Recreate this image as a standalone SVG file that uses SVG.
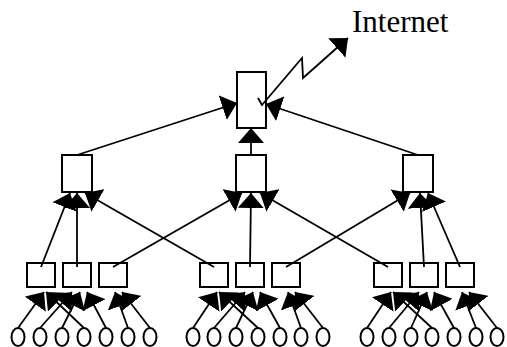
<svg xmlns="http://www.w3.org/2000/svg" width="507" height="347" viewBox="0 0 507 347">
<style>
.box{fill:#fff;stroke:#000;stroke-width:2}
.leaf{fill:#fff;stroke:#000;stroke-width:2}
.c{fill:none;stroke:#000;stroke-width:1.8;marker-end:url(#ah)}
.t{font-family:"Liberation Serif","Times New Roman",serif;font-size:31px;fill:#000}
</style>
<defs>
<marker id="ah" viewBox="0 0 15 26" refX="15" refY="13" markerWidth="15" markerHeight="26" markerUnits="userSpaceOnUse" orient="auto">
<path d="M0,0 L15,13 L0,26 z" fill="#000"/>
</marker>
</defs>
<g id="root"><rect class="box" x="237" y="72" width="29" height="56"/></g>
<g id="mid1"><rect class="box" x="62" y="155" width="30" height="37"/></g>
<g id="mid2"><rect class="box" x="236" y="155" width="30" height="37"/></g>
<g id="mid3"><rect class="box" x="403" y="155" width="30" height="37"/></g>
<g id="b1"><rect class="box" x="27" y="263" width="28" height="24"/></g>
<g id="b2"><rect class="box" x="63" y="263" width="28" height="24"/></g>
<g id="b3"><rect class="box" x="99" y="263" width="28" height="24"/></g>
<g id="b4"><rect class="box" x="200" y="263" width="28" height="24"/></g>
<g id="b5"><rect class="box" x="236" y="263" width="28" height="24"/></g>
<g id="b6"><rect class="box" x="272" y="263" width="28" height="24"/></g>
<g id="b7"><rect class="box" x="374" y="263" width="28" height="24"/></g>
<g id="b8"><rect class="box" x="410" y="263" width="28" height="24"/></g>
<g id="b9"><rect class="box" x="446" y="263" width="28" height="24"/></g>
<g id="leaves">
<g id="l1"><ellipse class="leaf" cx="18" cy="337" rx="6.5" ry="9"/></g>
<g id="l2"><ellipse class="leaf" cx="40" cy="337" rx="6.5" ry="9"/></g>
<g id="l3"><ellipse class="leaf" cx="62" cy="337" rx="6.5" ry="9"/></g>
<g id="l4"><ellipse class="leaf" cx="84" cy="337" rx="6.5" ry="9"/></g>
<g id="l5"><ellipse class="leaf" cx="106" cy="337" rx="6.5" ry="9"/></g>
<g id="l6"><ellipse class="leaf" cx="128" cy="337" rx="6.5" ry="9"/></g>
<g id="l7"><ellipse class="leaf" cx="150" cy="337" rx="6.5" ry="9"/></g>
<g id="l8"><ellipse class="leaf" cx="193" cy="337" rx="6.5" ry="9"/></g>
<g id="l9"><ellipse class="leaf" cx="214" cy="337" rx="6.5" ry="9"/></g>
<g id="l10"><ellipse class="leaf" cx="236" cy="337" rx="6.5" ry="9"/></g>
<g id="l11"><ellipse class="leaf" cx="258" cy="337" rx="6.5" ry="9"/></g>
<g id="l12"><ellipse class="leaf" cx="280" cy="337" rx="6.5" ry="9"/></g>
<g id="l13"><ellipse class="leaf" cx="301" cy="337" rx="6.5" ry="9"/></g>
<g id="l14"><ellipse class="leaf" cx="323" cy="337" rx="6.5" ry="9"/></g>
<g id="l15"><ellipse class="leaf" cx="367" cy="337" rx="6.5" ry="9"/></g>
<g id="l16"><ellipse class="leaf" cx="389" cy="337" rx="6.5" ry="9"/></g>
<g id="l17"><ellipse class="leaf" cx="411" cy="337" rx="6.5" ry="9"/></g>
<g id="l18"><ellipse class="leaf" cx="432" cy="337" rx="6.5" ry="9"/></g>
<g id="l19"><ellipse class="leaf" cx="454" cy="337" rx="6.5" ry="9"/></g>
<g id="l20"><ellipse class="leaf" cx="476" cy="337" rx="6.5" ry="9"/></g>
<g id="l21"><ellipse class="leaf" cx="497" cy="337" rx="6.5" ry="9"/></g>
</g>
<g id="internet"><text class="t" x="352" y="32">Internet</text></g>
<g id="connectors">
<line class="c" x1="77" y1="155" x2="237" y2="103"/>
<line class="c" x1="251" y1="155" x2="251" y2="128"/>
<line class="c" x1="418" y1="155" x2="266" y2="104"/>
<polyline class="c" points="258,98 262,105 302,58 303,78 348,38"/>
<line class="c" x1="41" y1="267" x2="70" y2="193"/>
<line class="c" x1="77" y1="267" x2="77" y2="193"/>
<line class="c" x1="214" y1="267" x2="85" y2="193"/>
<line class="c" x1="113" y1="267" x2="242" y2="193"/>
<line class="c" x1="250" y1="267" x2="251" y2="193"/>
<line class="c" x1="388" y1="267" x2="260" y2="193"/>
<line class="c" x1="286" y1="267" x2="410" y2="193"/>
<line class="c" x1="424" y1="267" x2="420" y2="193"/>
<line class="c" x1="460" y1="267" x2="428" y2="193"/>
<line class="c" x1="18" y1="328" x2="44" y2="292"/>
<line class="c" x1="40" y1="328" x2="72" y2="292"/>
<line class="c" x1="62" y1="328" x2="80" y2="292"/>
<line class="c" x1="84" y1="328" x2="46" y2="292"/>
<line class="c" x1="106" y1="328" x2="87" y2="292"/>
<line class="c" x1="128" y1="328" x2="115" y2="292"/>
<line class="c" x1="150" y1="328" x2="122" y2="292"/>
<line class="c" x1="193" y1="328" x2="217" y2="292"/>
<line class="c" x1="214" y1="328" x2="245" y2="292"/>
<line class="c" x1="236" y1="328" x2="253" y2="292"/>
<line class="c" x1="258" y1="328" x2="219" y2="292"/>
<line class="c" x1="280" y1="328" x2="260" y2="292"/>
<line class="c" x1="301" y1="328" x2="288" y2="292"/>
<line class="c" x1="323" y1="328" x2="295" y2="292"/>
<line class="c" x1="367" y1="328" x2="391" y2="292"/>
<line class="c" x1="389" y1="328" x2="419" y2="292"/>
<line class="c" x1="411" y1="328" x2="427" y2="292"/>
<line class="c" x1="432" y1="328" x2="393" y2="292"/>
<line class="c" x1="454" y1="328" x2="434" y2="292"/>
<line class="c" x1="476" y1="328" x2="462" y2="292"/>
<line class="c" x1="497" y1="328" x2="469" y2="292"/>
</g>
</svg>
